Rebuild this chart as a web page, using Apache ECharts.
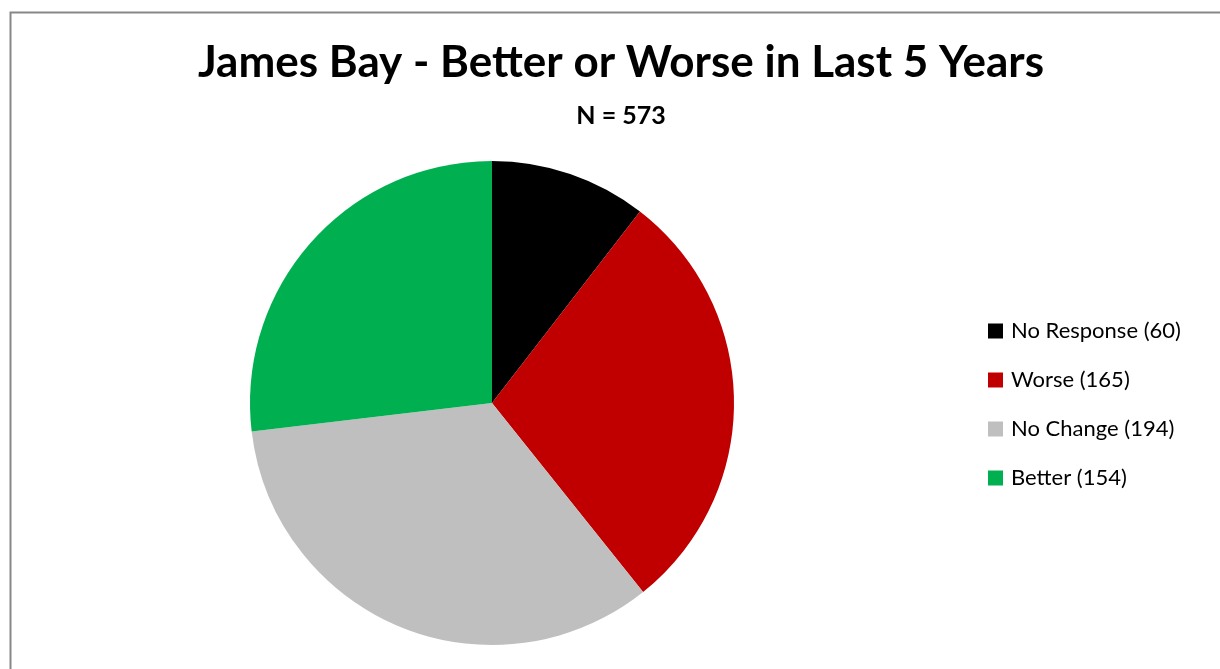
<!DOCTYPE html>
<html>
<head>
<meta charset="utf-8">
<script src="https://cdn.jsdelivr.net/npm/echarts@6/dist/echarts.min.js"></script>
<style>
  html, body { margin: 0; padding: 0; background: #ffffff; }
  #chart { width: 1220px; height: 669px; }
</style>
</head>
<body>
<div id="chart"></div>
<script>
// Survey responses: change over the last five years
const categories = ['No Response', 'Worse', 'No Change', 'Better'];
const counts = [60, 165, 194, 154];
const sliceColors = ['#000000', '#C00000', '#BFBFBF', '#00B050'];
const total = counts.reduce((a, b) => a + b, 0);

const font = 'Lato, "Open Sans", "Liberation Sans", sans-serif';

const chart = echarts.init(document.getElementById('chart'), null, { renderer: 'canvas' });

chart.setOption({
  animation: false,
  backgroundColor: '#ffffff',
  title: [
    {
      text: 'James Bay - Better or Worse in Last 5 Years',
      left: 616, top: 36, textAlign: 'center',
      textStyle: { fontFamily: font, fontWeight: 'bold', fontSize: 44, color: '#000000' }
    },
    {
      text: 'N = ' + total,
      left: 616, top: 98, textAlign: 'center',
      textStyle: { fontFamily: font, fontWeight: 'bold', fontSize: 25, color: '#000000' }
    }
  ],
  legend: {
    orient: 'vertical',
    left: 983, top: 315,
    itemWidth: 15, itemHeight: 15, itemGap: 27,
    icon: 'rect',
    data: categories,
    formatter: name => name + ' (' + counts[categories.indexOf(name)] + ')',
    textStyle: { fontFamily: font, fontSize: 22, color: '#000000', padding: [0, 0, 0, 3] },
    selectedMode: false
  },
  graphic: [{
    type: 'rect',
    left: 8, top: 10,
    shape: { width: 1230, height: 700 },
    style: { fill: 'none', stroke: '#878787', lineWidth: 2 },
    silent: true
  }],
  series: [{
    type: 'pie',
    center: [492, 403],
    radius: 242,
    startAngle: 90,
    clockwise: true,
    label: { show: false },
    labelLine: { show: false },
    emphasis: { disabled: true },
    itemStyle: { borderWidth: 0 },
    data: categories.map((name, i) => ({
      name, value: counts[i], itemStyle: { color: sliceColors[i] }
    }))
  }]
});
</script>
</body>
</html>
